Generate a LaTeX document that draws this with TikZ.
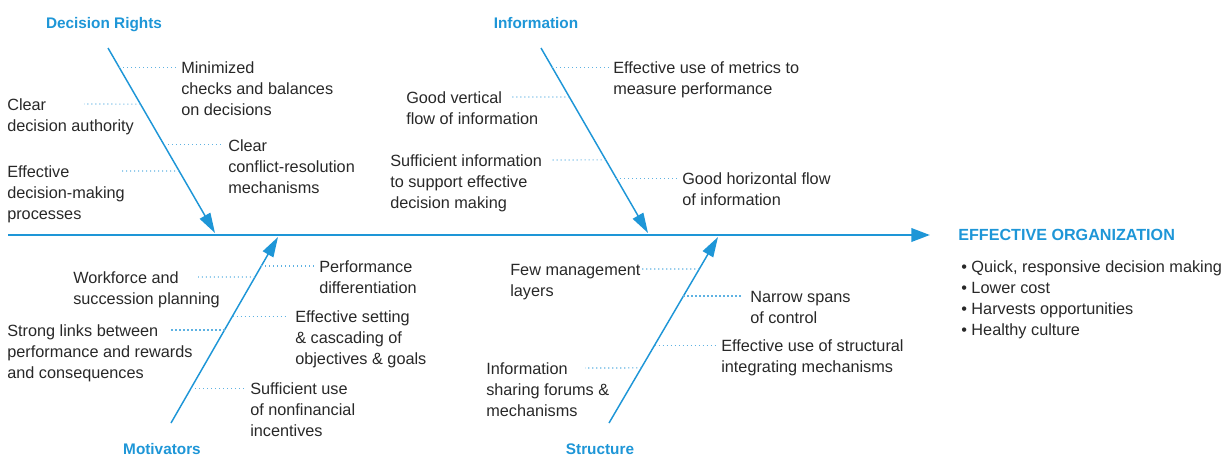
\documentclass[tikz,border=0pt]{standalone}
\usepackage{fontspec}
\setmainfont{Liberation Sans}
\usetikzlibrary{arrows.meta,calc}
\definecolor{boneblue}{RGB}{30,150,215}
\definecolor{dotblue}{RGB}{95,178,226}
\definecolor{txtgrey}{RGB}{40,40,40}
\newcommand{\lines}[1]{\begin{tabular}[t]{@{}l@{}}#1\end{tabular}}

\begin{document}
\begin{tikzpicture}[x=0.75pt,y=-0.75pt,
		spine/.style={draw=boneblue,line width=2pt,-{Triangle[length=14pt,width=10pt]}},
		bone/.style={draw=boneblue,line width=1.1pt,-{Triangle[length=15pt,width=9pt]}},
		twig/.style={draw=dotblue,line width=0.8pt,dash pattern=on 0.8pt off 2.2pt},
		cause/.style={font=\fontsize{11.5}{14}\selectfont\bfseries,text=boneblue,inner sep=0pt,anchor=base},
		item/.style={font=\fontsize{12.2}{15.75}\selectfont,text=txtgrey,inner sep=0pt,anchor=mid west,yshift=-2.2pt}]
	\useasboundingbox (0,0) rectangle (1230,458);
	\coordinate (tail) at (8,235);
	\coordinate (head) at (930,235);
	\draw[spine] (tail) -- (head);
	\node[cause,font=\fontsize{12.1}{14}\selectfont\bfseries,anchor=west] (goal) at (958,235) {EFFECTIVE ORGANIZATION};
	\node[item] (gains) at (961,266) {\lines{\textbullet\ Quick, responsive decision making\\\textbullet\ Lower cost\\\textbullet\ Harvests opportunities\\\textbullet\ Healthy culture}};

	\node[cause] (dr) at (104,28) {Decision Rights};
	\coordinate (drS) at (108,48);
	\coordinate (drE) at (215,233);
	\draw[bone] (drS) -- (drE);
	\coordinate (dr1) at ($(drS)!0.103!(drE)$);
	\coordinate (dr2) at ($(drS)!0.303!(drE)$);
	\coordinate (dr3) at ($(drS)!0.524!(drE)$);
	\coordinate (dr4) at ($(drS)!0.665!(drE)$);
	\node[item] (mini) at (181,67) {\lines{Minimized\\checks and balances\\on decisions}};
	\node[item] (auth) at (7,104) {\lines{Clear\\decision authority}};
	\node[item] (conf) at (228,145) {\lines{Clear\\conflict-resolution\\mechanisms}};
	\node[item] (proc) at (7,171) {\lines{Effective\\decision-making\\processes}};
	\coordinate (authend) at (84,104);
	\coordinate (procend) at (122,171);
	\draw[twig,shorten >=3pt] (dr1) -- (dr1 -| mini.west);
	\draw[twig] (dr2) -- (authend);
	\draw[twig,shorten >=3pt] (dr3) -- (dr3 -| conf.west);
	\draw[twig] (dr4) -- (procend);

	\node[cause] (inf) at (536,28) {Information};
	\coordinate (inS) at (541,48);
	\coordinate (inE) at (648,233);
	\draw[bone] (inS) -- (inE);
	\coordinate (in1) at ($(inS)!0.103!(inE)$);
	\coordinate (in2) at ($(inS)!0.265!(inE)$);
	\coordinate (in3) at ($(inS)!0.605!(inE)$);
	\coordinate (in4) at ($(inS)!0.703!(inE)$);
	\node[item] (metr) at (613,67) {\lines{Effective use of metrics to\\measure performance}};
	\node[item] (vert) at (406,97) {\lines{Good vertical\\flow of information}};
	\node[item] (suff) at (390,160) {\lines{Sufficient information\\to support effective\\decision making}};
	\node[item] (horz) at (682,178) {\lines{Good horizontal flow\\of information}};
	\coordinate (vertend) at (512,97);
	\coordinate (suffend) at (550,160);
	\draw[twig,shorten >=3pt] (in1) -- (in1 -| metr.west);
	\draw[twig] (in2) -- (vertend);
	\draw[twig] (in3) -- (suffend);
	\draw[twig,shorten >=4pt] (in4) -- (in4 -| horz.west);

	\node[cause] (mot) at (162,454) {Motivators};
	\coordinate (mvS) at (171,423);
	\coordinate (mvE) at (278,237);
	\draw[bone] (mvS) -- (mvE);
	\coordinate (mv1) at ($(mvS)!0.844!(mvE)$);
	\coordinate (mv2) at ($(mvS)!0.785!(mvE)$);
	\coordinate (mv3) at ($(mvS)!0.575!(mvE)$);
	\coordinate (mv4) at ($(mvS)!0.5!(mvE)$);
	\coordinate (mv5) at ($(mvS)!0.188!(mvE)$);
	\node[item] (perf) at (319,266) {\lines{Performance\\differentiation}};
	\node[item] (work) at (73,277) {\lines{Workforce and\\succession planning}};
	\node[item] (sett) at (295,316) {\lines{Effective setting\\\& cascading of\\objectives \& goals}};
	\node[item] (link) at (7,330) {\lines{Strong links between\\performance and rewards\\and consequences}};
	\node[item] (ince) at (250,388) {\lines{Sufficient use\\of nonfinancial\\incentives}};
	\coordinate (workend) at (198,277);
	\coordinate (linkend) at (170,330);
	\draw[twig,shorten >=3pt] (mv1) -- (mv1 -| perf.west);
	\draw[twig] (mv2) -- (workend);
	\draw[twig,shorten >=5pt] (mv3) -- (mv3 -| sett.west);
	\draw[twig] (mv4) -- (linkend);
	\draw[twig,shorten >=3pt] (mv5) -- (mv5 -| ince.west);

	\node[cause] (str) at (600,454) {Structure};
	\coordinate (stS) at (609,423);
	\coordinate (stE) at (718,237);
	\draw[bone] (stS) -- (stE);
	\coordinate (st1) at ($(stS)!0.828!(stE)$);
	\coordinate (st2) at ($(stS)!0.683!(stE)$);
	\coordinate (st3) at ($(stS)!0.419!(stE)$);
	\coordinate (st4) at ($(stS)!0.296!(stE)$);
	\node[item] (laye) at (510,269) {\lines{Few management\\layers}};
	\node[item] (span) at (750,296) {\lines{Narrow spans\\of control}};
	\node[item] (intg) at (721,345) {\lines{Effective use of structural\\integrating mechanisms}};
	\node[item] (foru) at (486,368) {\lines{Information\\sharing forums \&\\mechanisms}};
	\coordinate (layeend) at (640,269);
	\coordinate (foruend) at (585,368);
	\draw[twig] (st1) -- (layeend);
	\draw[twig,shorten >=5pt] (st2) -- (st2 -| span.west);
	\draw[twig,shorten >=4pt] (st3) -- (st3 -| intg.west);
	\draw[twig] (st4) -- (foruend);
\end{tikzpicture}
\end{document}
